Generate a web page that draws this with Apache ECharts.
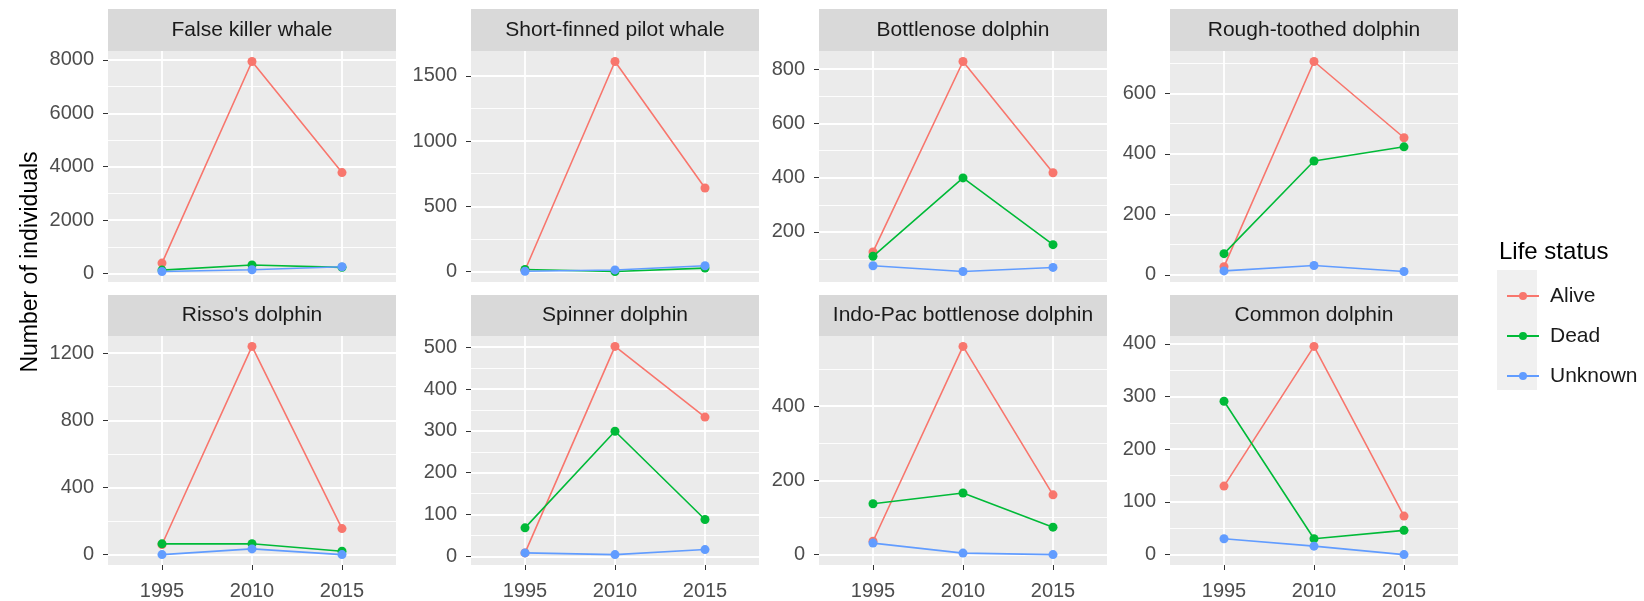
<!DOCTYPE html>
<html>
<head>
<meta charset="utf-8">
<script src="https://cdn.jsdelivr.net/npm/echarts@6/dist/echarts.min.js"></script>
<style>
html, body { margin: 0; padding: 0; background: #fff; }
#main { width: 1644px; height: 601px; }
</style>
</head>
<body>
<div id="main"></div>
<script>
// data
var years = ['1995', '2010', '2015'];
var species = ['False killer whale', 'Short-finned pilot whale', 'Bottlenose dolphin', 'Rough-toothed dolphin',
               "Risso's dolphin", 'Spinner dolphin', 'Indo-Pac bottlenose dolphin', 'Common dolphin'];
var alive   = [[390, 7940, 3780], [10, 1611, 641], [126, 828, 418], [27, 705, 453],
               [60, 1240, 155], [8, 502, 333], [36, 561, 161], [130, 395, 73]];
var dead    = [[128, 317, 230], [15, 0, 26], [110, 399, 153], [70, 376, 423],
               [64, 65, 20], [68, 299, 88], [137, 166, 74], [291, 30, 46]];
var unknown = [[75, 140, 253], [2, 12, 44], [75, 54, 69], [13, 31, 11],
               [0, 34, 0], [8, 4, 16], [31, 4, 0], [30, 16, 0]];
var yTicks  = [[0, 2000, 4000, 6000, 8000], [0, 500, 1000, 1500], [200, 400, 600, 800], [0, 200, 400, 600],
               [0, 400, 800, 1200], [0, 100, 200, 300, 400, 500], [0, 200, 400], [0, 100, 200, 300, 400]];
var statusNames = ['Alive', 'Dead', 'Unknown'];
var colors = ['#F8766D', '#00BA38', '#619CFF'];

// layout
var colLeft = [108, 471, 819, 1170];
var rowTop = [51, 336];
var stripTop = [9, 295];
var panelW = 288, panelH = 231;
var font = '"Liberation Sans", Arial, sans-serif';

var grids = [], xAxes = [], yAxes = [], series = [], graphics = [];

species.forEach(function (name, i) {
    var row = Math.floor(i / 4), col = i % 4;
    var left = colLeft[col], top = rowTop[row];
    var bottomRow = row === 1;
    var all = alive[i].concat(dead[i], unknown[i]);
    var lo = Math.min.apply(null, all), hi = Math.max.apply(null, all);
    var pad = (hi - lo) * 0.05;
    var yMin = lo - pad, yMax = hi + pad;

    // minor grid lines halfway between the breaks
    var t = yTicks[i], step = t[1] - t[0], minors = [];
    for (var k = -1; k < t.length; k++) {
        var m = t[0] + step * k + step / 2;
        if (m > yMin && m < yMax) minors.push(m);
    }

    grids.push({
        left: left, top: top, width: panelW, height: panelH,
        show: true, backgroundColor: '#EBEBEB', borderWidth: 0
    });

    xAxes.push({
        gridIndex: i, type: 'value', min: -0.6, max: 2.6,
        axisLine: { show: false, onZero: false },
        axisTick: { show: bottomRow, customValues: [0, 1, 2], length: 5, lineStyle: { color: '#333', width: 1 } },
        axisLabel: {
            show: bottomRow, customValues: [0, 1, 2],
            formatter: function (v) { return years[Math.round(v)]; },
            fontSize: 20, color: '#4D4D4D', margin: 16, fontFamily: font
        },
        splitLine: { show: true, lineStyle: { color: '#fff', width: 1.8 } }
    });

    yAxes.push({
        gridIndex: i, type: 'value', position: 'left', min: yMin, max: yMax,
        axisLine: { show: false, onZero: false },
        axisTick: { show: true, customValues: yTicks[i], length: 5, lineStyle: { color: '#333', width: 1 } },
        axisLabel: {
            customValues: yTicks[i], fontSize: 20, color: '#4D4D4D', margin: 14, fontFamily: font,
            formatter: function (v) { return String(Math.round(v)); }
        },
        splitLine: { show: true, lineStyle: { color: '#fff', width: 1.8 } }
    });
    yAxes.push({
        gridIndex: i, type: 'value', position: 'right', min: yMin, max: yMax,
        axisLine: { show: false, onZero: false },
        axisTick: { show: false, customValues: minors },
        axisLabel: { show: false },
        splitLine: { show: true, lineStyle: { color: '#fff', width: 0.9 } }
    });

    [alive, dead, unknown].forEach(function (arr, s) {
        series.push({
            name: statusNames[s], type: 'line',
            xAxisIndex: i, yAxisIndex: 2 * i,
            data: arr[i].map(function (v, k) { return [k, v]; }),
            symbol: 'circle', symbolSize: 9,
            itemStyle: { color: colors[s] },
            lineStyle: { color: colors[s], width: 1.6 },
            emphasis: { disabled: true },
            z: 3 + s
        });
    });

    // facet strip
    var sh = top - stripTop[row];
    graphics.push({
        type: 'rect', x: left, y: stripTop[row],
        shape: { width: panelW, height: sh },
        style: { fill: '#D9D9D9' }
    });
    graphics.push({
        type: 'text', x: left + panelW / 2, y: stripTop[row] + sh / 2,
        style: { text: name, fontSize: 21, fontFamily: font, fill: '#1A1A1A', align: 'center', verticalAlign: 'middle' }
    });
});

// y axis title
graphics.push({
    type: 'text', x: 31, y: 262, rotation: Math.PI / 2,
    style: { text: 'Number of individuals', fontSize: 23, fontFamily: font, fill: '#000', align: 'center', verticalAlign: 'middle' }
});
// legend title and key background
graphics.push({
    type: 'text', x: 1499, y: 252,
    style: { text: 'Life status', fontSize: 24, fontFamily: font, fill: '#000', align: 'left', verticalAlign: 'middle' }
});
graphics.push({
    type: 'rect', x: 1497, y: 270, shape: { width: 40, height: 120 },
    style: { fill: '#F0F0F0' }, z: -1
});

var option = {
    animation: false,
    grid: grids,
    xAxis: xAxes,
    yAxis: yAxes,
    series: series,
    graphic: graphics,
    legend: {
        data: statusNames,
        orient: 'vertical', left: 1501, top: 280,
        itemWidth: 32, itemHeight: 10, itemGap: 18,
        selectedMode: false,
        textStyle: { fontSize: 21, lineHeight: 22, color: '#1A1A1A', fontFamily: font, padding: [0, 0, 0, 6] }
    }
};

var myChart = echarts.init(document.getElementById('main'));
myChart.setOption(option);
</script>
</body>
</html>
